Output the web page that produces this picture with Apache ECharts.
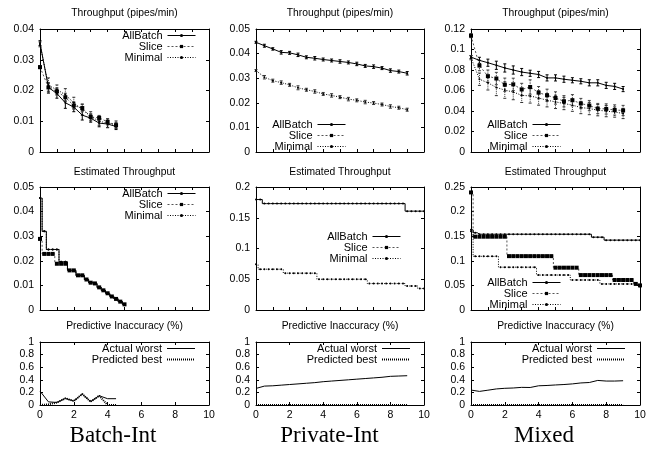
<!DOCTYPE html>
<html><head><meta charset="utf-8">
<script src="https://cdn.jsdelivr.net/npm/echarts@6/dist/echarts.min.js"></script>
<style>html,body{margin:0;padding:0;background:#fff}#c{width:657px;height:452px}</style>
</head><body><div id="c"></div>
<script>
// ---------- DATA ----------
const rowTitles = ['Throughput (pipes/min)', 'Estimated Throughput', 'Predictive Inaccuracy (%)'];
const colCaptions = ['Batch-Int', 'Private-Int', 'Mixed'];

// Row 1: Throughput (pipes/min)
const tpXBatch = [0,0.5,1,1.5,2,2.5,3,3.5,4,4.5];
const tpXLong = [0,0.5,1,1.5,2,2.5,3,3.5,4,4.5,5,5.5,6,6.5,7,7.5,8,8.5,9];

const tpBatchAllBatch = [0.0354,0.0210,0.0190,0.0160,0.0146,0.0120,0.0110,0.0094,0.0091,0.0083];
const tpBatchAllBatchErr = [0.0008,0.0015,0.0015,0.0018,0.0015,0.0016,0.0013,0.0012,0.0012,0.0010];
const tpBatchSlice = [0.0276,0.0210,0.0197,0.0178,0.0151,0.0143,0.0114,0.0111,0.0098,0.0087];
const tpBatchSliceErr = [0.0005,0.0012,0.0012,0.0013,0.0012,0.0012,0.0010,0.0008,0.0010,0.0009];
const tpBatchMinimal = [0.0350,0.0216,0.0203,0.0186,0.0160,0.0138,0.0116,0.0100,0.0094,0.0089];
const tpBatchMinimalErr = [0.0008,0.0025,0.0015,0.0020,0.0018,0.0018,0.0015,0.0013,0.0014,0.0012];

const tpPrivAllBatch = [0.0446,0.0432,0.0419,0.0405,0.0403,0.0395,0.0385,0.0381,0.0376,0.0372,0.0368,0.0364,0.0358,0.0350,0.0347,0.0341,0.0331,0.0327,0.0320];
const tpPrivAllBatchErr = [0.0004,0.0006,0.0005,0.0007,0.0006,0.0007,0.0006,0.0007,0.0006,0.0006,0.0007,0.0006,0.0007,0.0006,0.0007,0.0006,0.0007,0.0006,0.0007];
const tpPrivSlice = [];
const tpPrivSliceErr = [];
const tpPrivMinimal = [0.0331,0.0304,0.0290,0.0282,0.0273,0.0261,0.0253,0.0246,0.0236,0.0230,0.0223,0.0215,0.0210,0.0203,0.0199,0.0193,0.0185,0.0180,0.0172];
const tpPrivMinimalErr = [0.0004,0.0007,0.0006,0.0007,0.0006,0.0008,0.0006,0.0007,0.0006,0.0007,0.0006,0.0007,0.0006,0.0007,0.0006,0.0006,0.0007,0.0006,0.0006];

const tpMixAllBatch = [0.0926,0.0894,0.0871,0.0846,0.0820,0.0800,0.0780,0.0768,0.0756,0.0723,0.0723,0.0710,0.0700,0.0690,0.0675,0.0675,0.0650,0.0640,0.0614];
const tpMixAllBatchErr = [0.0015,0.0030,0.0035,0.0040,0.0040,0.0040,0.0035,0.0030,0.0030,0.0030,0.0030,0.0030,0.0025,0.0025,0.0030,0.0030,0.0030,0.0030,0.0025];
const tpMixSlice = [0.1135,0.0843,0.0740,0.0717,0.0656,0.0660,0.0610,0.0634,0.0579,0.0553,0.0527,0.0495,0.0505,0.0473,0.0453,0.0424,0.0420,0.0410,0.0405];
const tpMixSliceErr = [0.0020,0.0050,0.0060,0.0060,0.0065,0.0060,0.0060,0.0070,0.0060,0.0060,0.0060,0.0055,0.0055,0.0050,0.0050,0.0050,0.0050,0.0050,0.0050];
const tpMixMinimal = [0.0920,0.0710,0.0675,0.0630,0.0604,0.0585,0.0553,0.0547,0.0527,0.0505,0.0489,0.0473,0.0457,0.0434,0.0424,0.0408,0.0399,0.0390,0.0376];
const tpMixMinimalErr = [0.0020,0.0060,0.0070,0.0080,0.0080,0.0075,0.0070,0.0070,0.0070,0.0065,0.0065,0.0060,0.0060,0.0060,0.0060,0.0055,0.0055,0.0050,0.0050];

// Row 2: Estimated Throughput
const estXBatch = [0,0.25,0.5,0.75,1,1.25,1.5,1.75,2,2.25,2.5,2.75,3,3.25,3.5,3.75,4,4.25,4.5,4.75,5];
const estXLong = [0,0.25,0.5,0.75,1,1.25,1.5,1.75,2,2.25,2.5,2.75,3,3.25,3.5,3.75,4,4.25,4.5,4.75,5,5.25,5.5,5.75,6,6.25,6.5,6.75,7,7.25,7.5,7.75,8,8.25,8.5,8.75,9,9.25,9.5,9.75,10];

const estBatchAllBatch = [0.0455,0.0320,0.0246,0.0246,0.0246,0.0196,0.0196,0.0161,0.0161,0.0141,0.0141,0.0124,0.0111,0.0108,0.0092,0.0080,0.0068,0.0055,0.0045,0.0034,0.0023];
const estBatchSlice = [0.0289,0.0228,0.0228,0.0228,0.0188,0.0188,0.0188,0.0161,0.0161,0.0141,0.0141,0.0124,0.0111,0.0108,0.0092,0.0080,0.0068,0.0055,0.0045,0.0034,0.0023];
const estBatchMinimal = [0.0455,0.0320,0.0246,0.0246,0.0246,0.0196,0.0196,0.0161,0.0161,0.0141,0.0141,0.0124,0.0111,0.0108,0.0092,0.0080,0.0068,0.0055,0.0045,0.0034,0.0023];

const estPrivAllBatch = [0.1796,0.1796,
  0.173,0.173,0.173,0.173,0.173,0.173,0.173,0.173,0.173,0.173,
  0.173,0.173,0.173,0.173,0.173,0.173,0.173,0.173,0.173,0.173,
  0.173,0.173,0.173,0.173,0.173,0.173,0.173,0.173,0.173,0.173,
  0.173,0.173,0.173,0.173,
  0.1607,0.1607,0.1607,0.1607,0.1607];
const estPrivSlice = [];
const estPrivMinimal = [0.0744,
  0.0663,0.0663,0.0663,0.0663,0.0663,0.0663,
  0.0599,0.0599,0.0599,0.0599,0.0599,0.0599,0.0599,0.0599,
  0.0500,0.0500,0.0500,0.0500,0.0500,0.0500,0.0500,0.0500,0.0500,0.0500,0.0500,0.0500,
  0.0430,0.0430,0.0430,0.0430,0.0430,0.0430,0.0430,0.0430,0.0430,
  0.0390,0.0390,0.0390,
  0.0350,0.0350];

const estMixAllBatch = [0.163,0.157,
  0.154,0.154,0.154,0.154,0.154,0.154,0.154,0.154,0.154,0.154,
  0.154,0.154,0.154,0.154,0.154,0.154,0.154,0.154,0.154,0.154,
  0.154,0.154,0.154,0.154,0.154,0.154,0.154,
  0.148,0.148,0.148,
  0.142,0.142,0.142,0.142,0.142,0.142,0.142,0.142,0.142];
const estMixSlice = [0.239,
  0.149,0.149,0.149,0.149,0.149,0.149,0.149,0.149,
  0.1095,0.1095,0.1095,0.1095,0.1095,0.1095,0.1095,0.1095,0.1095,0.1095,0.1095,
  0.086,0.086,0.086,0.086,0.086,0.086,
  0.071,0.071,0.071,0.071,0.071,0.071,0.071,0.071,
  0.061,0.061,0.061,0.061,0.061,
  0.053,0.050];
const estMixMinimal = [0.160,
  0.109,0.109,0.109,0.109,0.109,0.109,
  0.087,0.087,0.087,0.087,0.087,0.087,0.087,0.087,0.087,
  0.071,0.071,0.071,0.071,0.071,0.071,0.071,0.071,
  0.061,0.061,0.061,0.061,0.061,0.061,0.061,
  0.053,0.053,0.053,0.053,0.053,0.053,0.053,0.053,0.053,
  0.048];

// Row 3: Predictive Inaccuracy (%)
const ipBatchActual = [0.22,0.05,0.04,0.105,0.063,0.174,0.053,0.147,0.10,0.10];
const ipBatchPredicted = [0,0.01,0.04,0.105,0.063,0.174,0.053,0.147,0,0];
const ipPrivActual = [0.263,0.300,0.305,0.315,0.325,0.335,0.345,0.355,0.370,0.380,0.390,0.400,0.410,0.420,0.430,0.440,0.455,0.460,0.465];
const ipPrivPredicted = [0,0,0,0,0,0,0,0,0,0,0,0,0,0,0,0,0,0,0];
const ipMixActual = [0.237,0.216,0.235,0.255,0.265,0.270,0.280,0.278,0.305,0.310,0.318,0.325,0.335,0.350,0.357,0.390,0.380,0.380,0.385];
const ipMixPredicted = [0,0,0,0,0,0,0,0,0,0,0,0,0,0,0,0,0,0,0];

// ---------- LAYOUT / STYLE ----------
const FONT = "'Liberation Sans', Arial, Helvetica, sans-serif";
const colLeft = [40, 256, 471], colWidth = [169, 168, 169];
const rowTop = [29, 187, 342], rowHeight = [123, 123, 63];
const titleY = [13, 172, 326];
const captionX = [113, 329.5, 544], captionY = 436;

const STYLE = {
  'AllBatch': {symbol:'circle', symbolSize:2, lineStyle:{color:'#000', width:1, type:'solid'}, itemStyle:{color:'#000'}, err:{stroke:'#000', dash:null}, z:4},
  'Slice': {symbol:'rect', symbolSize:4, lineStyle:{color:'#555', width:1, type:[2,2]}, itemStyle:{color:'#000'}, err:{stroke:'#444', dash:[1.5,1]}, z:3},
  'Minimal': {symbol:'circle', symbolSize:2, lineStyle:{color:'#000', width:1, type:[1,1.5]}, itemStyle:{color:'#000'}, err:{stroke:'#333', dash:[1,1]}, z:5},
  'Actual worst': {symbol:'none', symbolSize:0, lineStyle:{color:'#000', width:1, type:'solid'}, itemStyle:{color:'#000'}, z:4},
  'Predicted best': {symbol:'none', symbolSize:0, lineStyle:{color:'#000', width:2, type:[1,1]}, itemStyle:{color:'#000'}, z:3}
};

const panels = [
  {r:0,c:0,x:tpXBatch,yMax:0.04,yInt:0.01,lines:[['AllBatch',tpBatchAllBatch,tpBatchAllBatchErr],['Slice',tpBatchSlice,tpBatchSliceErr],['Minimal',tpBatchMinimal,tpBatchMinimalErr]],lg:{right:461,top:30}},
  {r:0,c:1,x:tpXLong,yMax:0.05,yInt:0.01,lines:[['AllBatch',tpPrivAllBatch,tpPrivAllBatchErr],['Slice',tpPrivSlice,tpPrivSliceErr],['Minimal',tpPrivMinimal,tpPrivMinimalErr]],lg:{right:311,top:119}},
  {r:0,c:2,x:tpXLong,yMax:0.12,yInt:0.02,lines:[['AllBatch',tpMixAllBatch,tpMixAllBatchErr],['Slice',tpMixSlice,tpMixSliceErr],['Minimal',tpMixMinimal,tpMixMinimalErr]],lg:{right:96,top:119}},
  {r:1,c:0,x:estXBatch,yMax:0.05,yInt:0.01,lines:[['AllBatch',estBatchAllBatch],['Slice',estBatchSlice],['Minimal',estBatchMinimal]],lg:{right:461,top:188}},
  {r:1,c:1,x:estXLong,yMax:0.2,yInt:0.05,lines:[['AllBatch',estPrivAllBatch],['Slice',estPrivSlice],['Minimal',estPrivMinimal]],lg:{right:256,top:231}},
  {r:1,c:2,x:estXLong,yMax:0.25,yInt:0.05,lines:[['AllBatch',estMixAllBatch],['Slice',estMixSlice],['Minimal',estMixMinimal]],lg:{right:96,top:277}},
  {r:2,c:0,x:tpXBatch,yMax:1,yInt:0.2,lines:[['Actual worst',ipBatchActual],['Predicted best',ipBatchPredicted]],lg:{right:461,top:343}},
  {r:2,c:1,x:tpXLong,yMax:1,yInt:0.2,lines:[['Actual worst',ipPrivActual],['Predicted best',ipPrivPredicted]],lg:{right:246,top:343}},
  {r:2,c:2,x:tpXLong,yMax:1,yInt:0.2,lines:[['Actual worst',ipMixActual],['Predicted best',ipMixPredicted]],lg:{right:31,top:343}}
];

function makeErrorBar(st) {
  return function (params, api) {
    const x = api.value(0), y = api.value(1), e = api.value(2);
    const hi = api.coord([x, y + e]), lo = api.coord([x, y - e]);
    const s = {stroke: st.stroke, lineWidth: 1, lineDash: st.dash};
    const w = 1.5;
    return {type:'group', children:[
      {type:'line', shape:{x1:hi[0], y1:hi[1], x2:lo[0], y2:lo[1]}, style:s},
      {type:'line', shape:{x1:hi[0]-w, y1:hi[1], x2:hi[0]+w, y2:hi[1]}, style:{stroke:st.stroke, lineWidth:1}},
      {type:'line', shape:{x1:lo[0]-w, y1:lo[1], x2:lo[0]+w, y2:lo[1]}, style:{stroke:st.stroke, lineWidth:1}}
    ]};
  };
}

const grid = [], xAxis = [], yAxis = [], series = [], legend = [], graphic = [];
panels.forEach((p, i) => {
  grid.push({left: colLeft[p.c], top: rowTop[p.r], width: colWidth[p.c], height: rowHeight[p.r]});
  const tick = {show:true, inside:true, length:3, lineStyle:{color:'#000', width:1}};
  const line = {show:true, onZero:false, lineStyle:{color:'#000', width:1}};
  const xb = {type:'value', gridIndex:i, min:0, max:10, interval: p.r === 2 ? 2 : 1, axisLine:line, axisTick:tick, splitLine:{show:false}};
  xAxis.push(Object.assign({}, xb, {position:'bottom', axisLabel:{show: p.r === 2, color:'#000', fontSize:10.5, fontFamily:FONT, margin:5}}));
  xAxis.push(Object.assign({}, xb, {position:'top', axisLabel:{show:false}}));
  const yb = {type:'value', gridIndex:i, min:0, max:p.yMax, interval:p.yInt, axisLine:line, axisTick:tick, splitLine:{show:false}};
  yAxis.push(Object.assign({}, yb, {position:'left', axisLabel:{color:'#000', fontSize:10.5, fontFamily:FONT, margin:6}}));
  yAxis.push(Object.assign({}, yb, {position:'right', axisLabel:{show:false}}));

  p.lines.forEach(([name, ys, errs]) => {
    const st = STYLE[name];
    series.push({
      type:'line', name, xAxisIndex: 2*i, yAxisIndex: 2*i,
      data: ys.map((v, k) => [p.x[k], v]),
      symbol: st.symbol, symbolSize: st.symbolSize, showSymbol: st.symbol !== 'none', showAllSymbol: true,
      lineStyle: st.lineStyle, itemStyle: st.itemStyle,
      step: p.r === 1 ? 'middle' : false,
      silent: true, animation: false, z: st.z
    });
    if (errs && errs.length) {
      series.push({
        type:'custom', name: name + ' error', xAxisIndex: 2*i, yAxisIndex: 2*i,
        data: ys.map((v, k) => [p.x[k], v, errs[k]]),
        encode: {x:0, y:1}, renderItem: makeErrorBar(st.err),
        silent: true, animation: false, z: 2
      });
    }
  });

  legend.push({
    data: p.lines.map(l => {
      const st = STYLE[l[0]];
      return {name: l[0],
        lineStyle: {color: st.lineStyle.color, width: st.lineStyle.width, type: st.lineStyle.type},
        itemStyle: {color: '#000', borderWidth: 0, opacity: st.symbol === 'none' ? 0 : 1}};
    }),
    orient:'vertical', align:'right',
    right: p.lg.right, top: p.lg.top, padding:0, itemGap:0,
    itemWidth:28, itemHeight:4, selectedMode:false,
    textStyle:{fontSize:11, fontFamily:FONT, color:'#000', lineHeight: p.r === 2 ? 11 : 10}
  });
});

[0,1,2].forEach(r => [0,1,2].forEach(c => {
  graphic.push({type:'text', x: colLeft[c] + colWidth[c]/2, y: titleY[r], silent:true,
    style:{text: rowTitles[r], fontSize:10.3, fontFamily:FONT, fill:'#000', align:'center', verticalAlign:'middle', textAlign:'center', textVerticalAlign:'middle'}});
}));
colCaptions.forEach((t, c) => {
  graphic.push({type:'text', x: captionX[c], y: captionY, silent:true,
    style:{text: t, fontSize:23, fontFamily:"'Liberation Serif', 'Times New Roman', serif", fill:'#000', align:'center', verticalAlign:'middle', textAlign:'center', textVerticalAlign:'middle'}});
});

const chart = echarts.init(document.getElementById('c'));
chart.setOption({animation:false, backgroundColor:'#fff', grid, xAxis, yAxis, series, legend, graphic});
</script>
</body></html>
